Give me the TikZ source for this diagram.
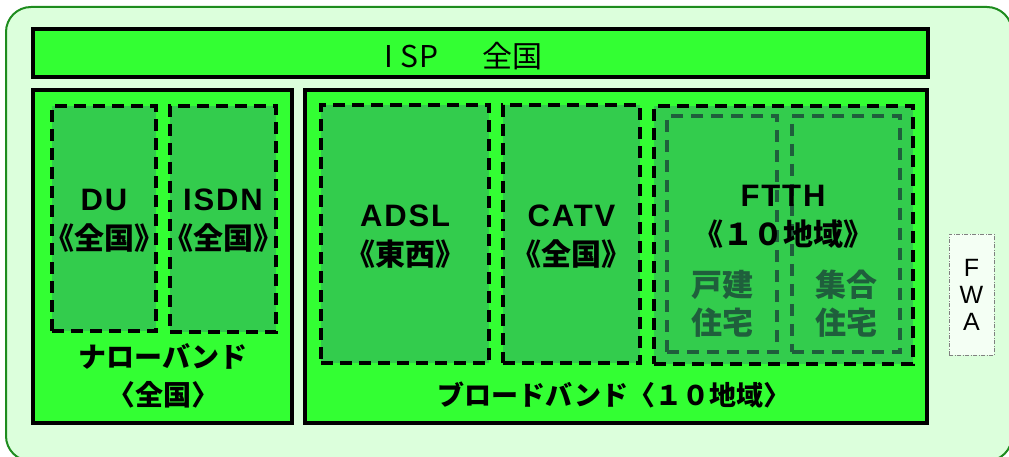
\documentclass[tikz,border=0pt]{standalone}
\usepackage{fontspec}
\setmainfont{Noto Sans CJK JP}
\newfontfamily\latinfont{Liberation Sans}
\usepackage{tikz}
\usetikzlibrary{positioning}
\definecolor{bgGreen}{HTML}{DCFFDC}
\definecolor{frameGreen}{HTML}{1E8C1E}
\definecolor{areaGreen}{HTML}{33FF33}
\definecolor{svcGreen}{HTML}{33CC4D}
\definecolor{subGreen}{HTML}{1F5F3C}
\newcommand{\svcname}[1]{{\latinfont\fontsize{31}{38}\selectfont\addfontfeature{LetterSpace=6}#1}}
\tikzset{
 outerbox/.style = {%
    draw=frameGreen,
    line width=2pt,
    fill=bgGreen,
    rounded corners=25pt},
  areabox/.style = {%
    draw=black,
    line width=3.5pt,
    fill=areaGreen,
    inner sep=0pt},
   svcbox/.style = {%
    draw=black,
    line width=3.5pt,
    dash pattern=on 12pt off 7pt,% <-- long dashes
    fill=svcGreen,
    inner sep=0pt},
   subbox/.style = {%
    draw=subGreen,
    line width=3.5pt,
    dash pattern=on 12pt off 8pt,
    inner sep=0pt},
   fwabox/.style = {%
    draw=gray,
    line width=0.8pt,
    dash pattern=on 4pt off 1.5pt on 1pt off 1.5pt,
    fill=white!70!bgGreen,
    inner sep=0pt,
    align=center,
    font=\fontsize{25}{27}\selectfont},
   lbl/.style = {%
    align=center,
    inner sep=0pt,
    font=\bfseries\fontsize{30}{39}\selectfont},
    }

\begin{document}
\begin{tikzpicture}[x=1pt,y=-1pt]
    \useasboundingbox (0,0) rectangle (1009,457);
    \node[outerbox, minimum width=1006pt, minimum height=454pt] (all) at (509,234) {};
    % ISP bar
    \node[areabox, minimum width=895pt, minimum height=48pt] (isp) at (480.5,53) {};
    \node[inner sep=0pt, font=\fontsize{30}{30}\selectfont] (isptext) at (461,56)
        {\makebox[20pt]{I}\makebox[20pt]{S}\makebox[20pt]{P}\hspace{44pt}全国};
    % narrow band
    \node[areabox, minimum width=259pt, minimum height=333pt] (narrow) at (162.5,256.5) {};
    \node[svcbox, minimum width=104pt, minimum height=225pt] (du) at (104,218.5) {};
    \node[svcbox, minimum width=106pt, minimum height=226pt] (isdn) at (223,219) {};
    \node[lbl] (dutext) at (104,221) {\svcname{DU}\\《全国》};
    \node[lbl] (isdntext) at (223,221) {\svcname{ISDN}\\《全国》};
    \node[lbl, font=\bfseries\fontsize{28}{38}\selectfont] (narrowlbl) at (163,376) {ナローバンド\\〈全国〉};
    % broad band
    \node[areabox, minimum width=622pt, minimum height=333pt] (broad) at (616,256.5) {};
    \node[svcbox, minimum width=168pt, minimum height=258pt] (adsl) at (405,234) {};
    \node[svcbox, minimum width=137pt, minimum height=258pt] (catv) at (571.5,234) {};
    \node[svcbox, minimum width=259pt, minimum height=258pt] (ftth) at (783.5,235) {};
    \node[subbox, minimum width=110pt, minimum height=236pt] (kodate) at (722,234) {};
    \node[subbox, minimum width=108pt, minimum height=236pt] (shugo) at (846,234) {};
    \node[lbl] (adsltext) at (405,237) {\svcname{ADSL}\\《東西》};
    \node[lbl] (catvtext) at (571.5,237) {\svcname{CATV}\\《全国》};
    \node[lbl] (ftthtext) at (783,217) {\svcname{FTTH}\\《１０地域》};
    \node[lbl, text=subGreen, font=\bfseries\fontsize{31}{38}\selectfont] (kodatetext) at (722,304) {戸建\\住宅};
    \node[lbl, text=subGreen, font=\bfseries\fontsize{31}{38}\selectfont] (shugotext) at (846,304) {集合\\住宅};
    \node[lbl, font=\bfseries\fontsize{27}{38}\selectfont] (broadlbl) at (614,395) {ブロードバンド〈１０地域〉};
    % FWA
    \node[fwabox, minimum width=45pt, minimum height=121pt] (fwa) at (971.5,294.5)
        {{\latinfont F}\\{\latinfont W}\\{\latinfont A}};
\end{tikzpicture}
\end{document}
